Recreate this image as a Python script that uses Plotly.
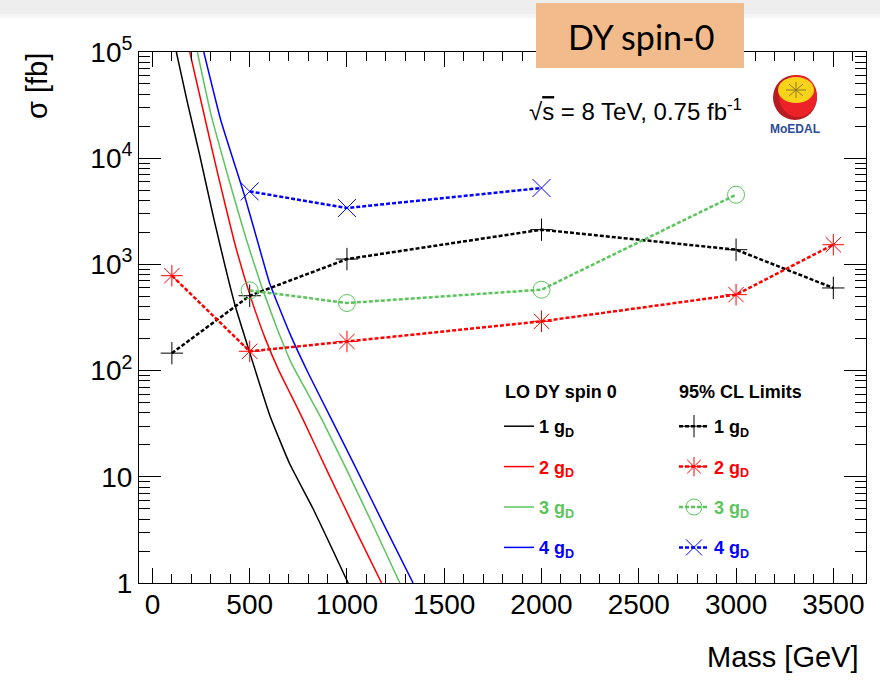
import plotly.graph_objects as go

# ---------------- data ----------------
# LO Drell-Yan spin-0 cross sections (fb) vs mass (GeV)
mass_g1 = [123, 178, 243, 312, 424, 500, 603, 706, 826, 929, 1006]
xsec_g1 = [1e5, 34700, 10700, 2880, 417, 148, 38, 13.2, 5.0, 2.0, 1.0]

mass_g2 = [192, 272, 331, 420, 500, 580, 650, 710, 774, 900, 1050, 1178]
xsec_g2 = [1e5, 22900, 7760, 1660, 525, 200, 100, 60, 34.7, 11.2, 3.0, 1.0]

mass_g3 = [231, 300, 393, 480, 560, 640, 720, 800, 871, 1000, 1140, 1272]
xsec_g3 = [1e5, 26300, 6310, 1780, 631, 251, 112, 60.3, 34.7, 11.5, 3.31, 1.0]

mass_g4 = [264, 351, 430, 473, 540, 603, 706, 800, 929, 1050, 1203, 1340]
xsec_g4 = [1e5, 22900, 7940, 4470, 1660, 661, 224, 95.5, 32.4, 11.7, 3.16, 1.0]

# 95% CL limits (fb)
lim_mass_g1 = [100, 500, 1000, 2000, 3000, 3500]
lim_xsec_g1 = [146, 507, 1122, 2123, 1375, 600]
lim_mass_g2 = [100, 500, 1000, 2000, 3000, 3500]
lim_xsec_g2 = [783, 152, 188, 291, 519, 1532]
lim_mass_g3 = [500, 1000, 2000, 3000]
lim_xsec_g3 = [569, 433, 578, 4530]
lim_mass_g4 = [500, 1000, 2000]
lim_xsec_g4 = [4868, 3396, 5240]

x_ticks = [0, 500, 1000, 1500, 2000, 2500, 3000, 3500]
y_ticks = [1, 10, 100, 1000, 10000, 100000]
y_ticktext = ["1", "10", "10<sup>2</sup>", "10<sup>3</sup>", "10<sup>4</sup>", "10<sup>5</sup>"]

# ---------------- layout helpers ----------------
W, H = 880, 689
L, R, T, B = 139, 14, 52, 106
PW, PH = W - L - R, H - T - B


def px_x(px):
    return (px - L) / PW


def px_y(py):
    return (H - B - py) / PH


BLACK, RED, GREEN, BLUE = "#000000", "#ff0000", "#5cc45c", "#0000ff"
FONT = "Liberation Sans, Arial, Helvetica, sans-serif"

fig = go.Figure()

theory = [
    (mass_g1, xsec_g1, BLACK, 1),
    (mass_g2, xsec_g2, RED, 2),
    (mass_g3, xsec_g3, GREEN, 3),
    (mass_g4, xsec_g4, BLUE, 4),
]
for m, s, c, k in theory:
    fig.add_trace(go.Scatter(
        x=m, y=s, mode="lines", line=dict(color=c, width=1.5, shape="spline", smoothing=0.4),
        name=f"<span style='color:{c}'><b>{k} g<sub>D</sub></b></span>",
        legend="legend", legendgroup=f"t{k}", showlegend=True,
    ))

limits = [
    (lim_mass_g1, lim_xsec_g1, BLACK, 1, "cross-thin-open", 16),
    (lim_mass_g2, lim_xsec_g2, RED, 2, "asterisk-open", 18),
    (lim_mass_g3, lim_xsec_g3, GREEN, 3, "circle-open", 17),
    (lim_mass_g4, lim_xsec_g4, BLUE, 4, "x-thin-open", 18),
]
for m, s, c, k, sym, sz in limits:
    fig.add_trace(go.Scatter(
        x=m, y=s, mode="lines+markers",
        line=dict(color=c, width=2.5, dash="4px,2px"),
        marker=dict(symbol=sym, size=sz, color=c, line=dict(color=c, width=1)),
        name=f"<span style='color:{c}'><b>{k} g<sub>D</sub></b></span>",
        legend="legend2", legendgroup=f"l{k}", showlegend=True,
    ))

x_minor = list(range(0, 3700, 100))
y_minor = [d * 10 ** e for e in range(0, 5) for d in range(2, 10)]

fig.update_layout(
    width=W, height=H,
    margin=dict(l=L, r=R, t=T, b=B),
    paper_bgcolor="white", plot_bgcolor="white",
    font=dict(family=FONT, color="black"),
    xaxis=dict(
        range=[-69, 3668], tickmode="array", tickvals=x_ticks,
        ticks="inside", ticklen=15, tickwidth=1, tickcolor="black",
        showline=True, linecolor="black", linewidth=1, mirror="ticks",
        showgrid=False, zeroline=False,
        tickfont=dict(family=FONT, size=28, color="black"),
        ticklabelstandoff=-4,
        minor=dict(tickmode="array", tickvals=x_minor, ticks="inside", ticklen=9,
                   tickcolor="black", tickwidth=1, showgrid=False),
    ),
    yaxis=dict(
        type="log", range=[0, 5], tickmode="array", tickvals=y_ticks, ticktext=y_ticktext,
        ticks="inside", ticklen=22, tickwidth=1, tickcolor="black",
        showline=True, linecolor="black", linewidth=1, mirror="ticks",
        showgrid=False, zeroline=False,
        tickfont=dict(family=FONT, size=28, color="black"),
        ticklabelstandoff=0,
        minor=dict(tickmode="array", tickvals=y_minor, ticks="inside", ticklen=11,
                   tickcolor="black", tickwidth=1, showgrid=False),
    ),
    legend=dict(
        x=px_x(499), y=px_y(408), xanchor="left", yanchor="top",
        bgcolor="rgba(0,0,0,0)", borderwidth=0,
        font=dict(family=FONT, size=18, color="black"),
        tracegroupgap=14, itemwidth=30,
    ),
    legend2=dict(
        x=px_x(674), y=px_y(408), xanchor="left", yanchor="top",
        bgcolor="rgba(0,0,0,0)", borderwidth=0,
        font=dict(family=FONT, size=18, color="black"),
        tracegroupgap=14, itemwidth=30,
    ),
)

shapes = []
# top slide banner
shapes.append(dict(type="rect", xref="paper", yref="paper", x0=px_x(0), x1=px_x(880),
                   y0=px_y(0), y1=px_y(14), fillcolor="#eeeeee", line=dict(width=0), layer="above"))
shapes.append(dict(type="rect", xref="paper", yref="paper", x0=px_x(0), x1=px_x(880),
                   y0=px_y(14), y1=px_y(18), fillcolor="#f6f6f6", line=dict(width=0), layer="above"))
# orange title box
shapes.append(dict(type="rect", xref="paper", yref="paper", x0=px_x(536), x1=px_x(744),
                   y0=px_y(3), y1=px_y(68), fillcolor="#f2bb8b", line=dict(width=0), layer="above"))
# MoEDAL logo
shapes.append(dict(type="circle", xref="paper", yref="paper", x0=px_x(773), x1=px_x(817),
                   y0=px_y(75), y1=px_y(120), fillcolor="#b71c22", line=dict(width=0), layer="above"))
shapes.append(dict(type="circle", xref="paper", yref="paper", x0=px_x(779), x1=px_x(817),
                   y0=px_y(75), y1=px_y(117), fillcolor="#ec2228", line=dict(width=0), layer="above"))
shapes.append(dict(type="circle", xref="paper", yref="paper", x0=px_x(778), x1=px_x(814),
                   y0=px_y(77), y1=px_y(103), fillcolor="#f9d21a", line=dict(width=0), layer="above"))
cx, cy = 796, 90
for dx, dy in [(10, 0), (0, 8), (7, 6), (7, -6)]:
    shapes.append(dict(type="line", xref="paper", yref="paper",
                       x0=px_x(cx - dx), x1=px_x(cx + dx), y0=px_y(cy - dy), y1=px_y(cy + dy),
                       line=dict(color="#8a7a30", width=1), layer="above"))
fig.update_layout(shapes=shapes)

ann = []
ann.append(dict(text="DY spin-0", x=px_x(641), y=px_y(37), xref="paper", yref="paper",
                showarrow=False, xanchor="center", yanchor="middle",
                font=dict(family="Lato, Open Sans, sans-serif", size=34, color="black")))
ann.append(dict(text="√<span style='text-decoration:overline'>s</span> = 8 TeV, 0.75 fb<sup>-1</sup>",
                x=px_x(527), y=px_y(110), xref="paper", yref="paper",
                showarrow=False, xanchor="left", yanchor="middle",
                font=dict(family=FONT, size=24, color="black")))
ann.append(dict(text="<b>MoEDAL</b>", x=px_x(795), y=px_y(129), xref="paper", yref="paper",
                showarrow=False, xanchor="center", yanchor="middle",
                font=dict(family=FONT, size=12, color="#2b4c9a")))
ann.append(dict(text="<b>LO DY spin 0</b>", x=px_x(503), y=px_y(392), xref="paper", yref="paper",
                showarrow=False, xanchor="left", yanchor="middle",
                font=dict(family=FONT, size=18, color="black")))
ann.append(dict(text="<b>95% CL Limits</b>", x=px_x(677), y=px_y(392), xref="paper", yref="paper",
                showarrow=False, xanchor="left", yanchor="middle",
                font=dict(family=FONT, size=18, color="black")))
ann.append(dict(text="σ [fb]", x=px_x(37), y=px_y(86), xref="paper", yref="paper",
                showarrow=False, xanchor="center", yanchor="middle", textangle=-90,
                font=dict(family=FONT, size=29, color="black")))
ann.append(dict(text="Mass [GeV]", x=px_x(861), y=px_y(657), xref="paper", yref="paper",
                showarrow=False, xanchor="right", yanchor="middle",
                font=dict(family=FONT, size=29, color="black")))
fig.update_layout(annotations=ann)

fig.write_html("out.html")
